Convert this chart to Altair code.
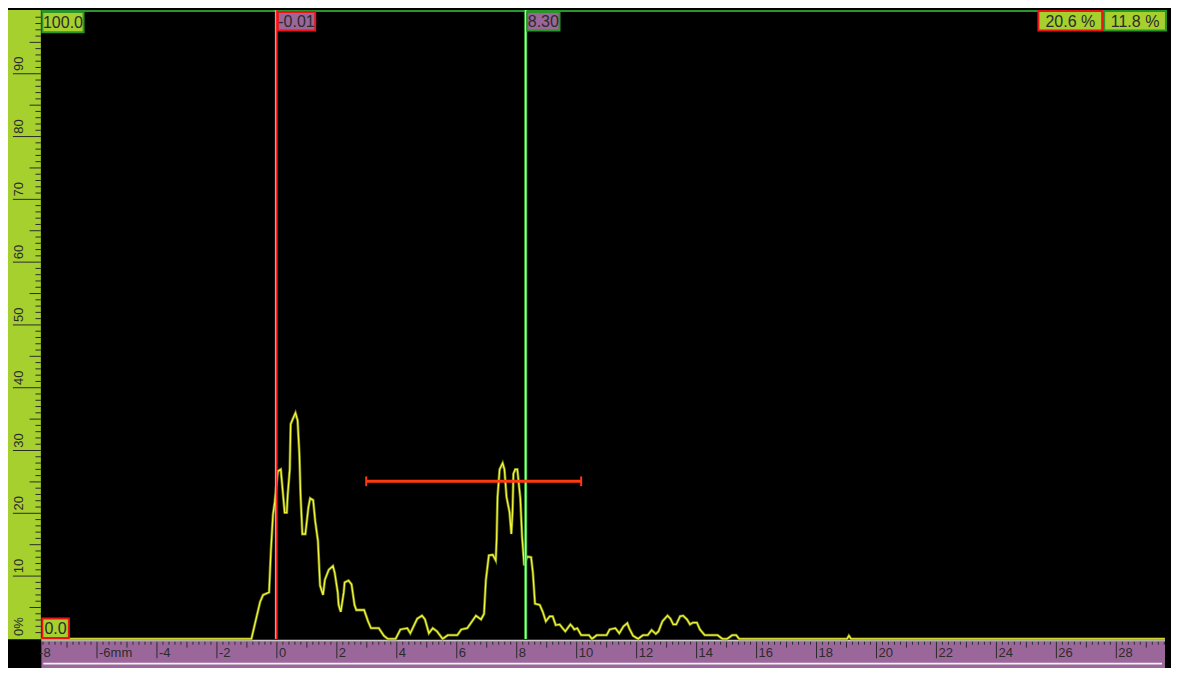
import altair as alt
import pandas as pd

# ---------------- data ----------------
trace_mm = [-7.86, -0.85, -0.56, -0.46, -0.26, -0.20, -0.13, -0.07, 0.03, 0.13, 0.20, 0.26, 0.33, 0.36,
            0.43, 0.46, 0.52, 0.62, 0.69, 0.75, 0.79, 0.85, 0.95, 1.05, 1.11, 1.21, 1.28, 1.37, 1.44,
            1.54, 1.60, 1.73, 1.87, 1.93, 2.03, 2.06, 2.13, 2.23, 2.26, 2.39, 2.49, 2.59, 2.65, 2.91,
            3.04, 3.14, 3.40, 3.57, 3.70, 3.96, 4.12, 4.35, 4.45, 4.68, 4.84, 4.94, 5.07, 5.20, 5.34,
            5.53, 5.70, 6.02, 6.15, 6.35, 6.51, 6.64, 6.81, 6.91, 6.97, 7.07, 7.20, 7.30, 7.33, 7.36,
            7.43, 7.53, 7.59, 7.66, 7.76, 7.82, 7.86, 7.89, 7.95, 8.02, 8.12, 8.18, 8.25, 8.35, 8.48,
            8.54, 8.61, 8.77, 8.87, 8.97, 9.10, 9.20, 9.30, 9.43, 9.53, 9.62, 9.79, 9.85, 9.92, 10.02,
            10.15, 10.41, 10.51, 10.67, 11.00, 11.10, 11.29, 11.42, 11.56, 11.69, 11.75, 11.88, 12.05,
            12.21, 12.37, 12.50, 12.64, 12.73, 12.86, 13.03, 13.13, 13.22, 13.32, 13.45, 13.55, 13.68,
            13.78, 13.88, 14.01, 14.11, 14.27, 14.70, 14.86, 15.02, 15.19, 15.32, 15.42, 19.02, 19.08,
            19.15, 29.62]
trace_amp = [0, 0, 5.9, 7.0, 7.4, 13.9, 19.8, 21.8, 26.7, 27.0, 23.3, 20.1, 20.1, 22.9,
             27.0, 34.2, 34.9, 36.0, 34.8, 29.5, 22.9, 16.7, 16.7, 20.9, 22.4, 22.1, 18.7, 15.6, 8.5,
             7.0, 9.4, 11.0, 11.6, 10.5, 7.4, 5.4, 4.3, 7.4, 9.0, 9.3, 8.7, 5.4, 4.6, 4.6,
             2.8, 1.7, 1.7, 0.5, 0, 0, 1.5, 1.7, 0.9, 3.2, 3.7, 3.1, 0.9, 1.7, 1.2,
             0, 0.6, 0.6, 1.5, 1.7, 2.8, 3.7, 3.1, 4.0, 9.3, 13.3, 13.4, 12.5, 15.9, 22.6,
             27.0, 28.0, 27.0, 22.6, 20.2, 16.7, 20.2, 26.3, 27.0, 27.0, 22.4, 16.2, 11.7, 13.1, 13.0,
             10.5, 5.6, 5.4, 4.3, 2.8, 3.6, 3.6, 2.2, 2.3, 1.7, 1.2, 2.3, 2.0, 1.5, 1.7,
             0.6, 0.6, 0, 0.6, 0.6, 1.5, 1.7, 0.9, 2.0, 2.5, 1.7, 0.5, 0,
             0.6, 0.6, 1.4, 0.8, 1.2, 2.8, 3.7, 3.2, 2.3, 2.3, 3.6, 3.7, 3.1,
             2.3, 2.6, 2.6, 1.5, 0.6, 0.6, 0, 0, 0.6, 0.6, 0, 0, 0.5,
             0, 0]

red_cursor_mm = -0.01
green_cursor_mm = 8.30
gate_start_mm = 2.98
gate_end_mm = 10.15
gate_level = 25.1

readout_labels = ["100.0", "0.0", "-0.01", "8.30", "20.6 %", "11.8 %"]

x_tick_values = list(range(-8, 30, 2))
x_tick_labels = ["-8", "-6mm", "-4", "-2", "0", "2", "4", "6", "8", "10", "12", "14", "16",
                 "18", "20", "22", "24", "26", "28"]
y_tick_values = [0, 10, 20, 30, 40, 50, 60, 70, 80, 90]
y_tick_labels = ["0%", "10", "20", "30", "40", "50", "60", "70", "80", "90"]

# ---------------- layout helpers ----------------
PX_PER_MM = 30.55
PX_PER_PCT = 6.47
X0_PX = 274.0
Y0_PX = 648.0


def px2mm(px):
    return (px - X0_PX) / PX_PER_MM


def py2amp(py):
    return (Y0_PX - py) / PX_PER_PCT


XMIN, XMAX = px2mm(0), px2mm(1179)
YMIN, YMAX = py2amp(678), py2amp(0)
XS = alt.Scale(domain=[XMIN, XMAX], nice=False, zero=False)
YS = alt.Scale(domain=[YMIN, YMAX], nice=False, zero=False)

FONT = "Liberation Sans"
GREEN_FILL = "#a6d02e"
PURPLE = "#9b679b"
TEXT = "#2b2b2b"
RED = "#e8161a"
DKGREEN = "#2a962a"


def X(f):
    return alt.X(f"{f}:Q", scale=XS, axis=None)


def Y(f):
    return alt.Y(f"{f}:Q", scale=YS, axis=None)


def rect_layer(df, color, stroke=None, sw=0):
    kw = dict(color=color)
    if stroke:
        kw.update(stroke=stroke, strokeWidth=sw)
    return alt.Chart(df).mark_rect(**kw).encode(x=X("x0"), x2="x1", y=Y("y0"), y2="y1")


# rulers background
left_ruler = rect_layer(pd.DataFrame({"x0": [XMIN], "x1": [px2mm(33.5)], "y0": [py2amp(648.5)], "y1": [YMAX]}), GREEN_FILL)
bottom_ruler = rect_layer(pd.DataFrame({"x0": [px2mm(34)], "x1": [XMAX], "y0": [YMIN], "y1": [py2amp(650)]}), PURPLE)

ruler_lines = alt.Chart(pd.DataFrame({
    "x0": [px2mm(34), px2mm(36)], "x1": [XMAX, px2mm(1176)],
    "y": [py2amp(649.6), py2amp(673.5)], "c": ["#c9c9c9", "#f2f2f2"]
})).mark_rule(strokeWidth=1.6).encode(x=X("x0"), x2="x1", y=Y("y"), color=alt.Color("c:N", scale=None))

# y ruler ticks
yt = []
for v in range(1, 100):
    if v % 10 == 0:
        x0 = px2mm(5)
    elif v % 5 == 0:
        x0 = px2mm(22)
    else:
        x0 = px2mm(28)
    yt.append({"y": v, "x0": x0, "x1": px2mm(33.5)})
y_ticks = alt.Chart(pd.DataFrame(yt)).mark_rule(color=TEXT, strokeWidth=1).encode(x=X("x0"), x2="x1", y=Y("y"))

y_lab_df = pd.DataFrame({"v": y_tick_values, "lab": y_tick_labels})
y_lab_df["yy"] = y_lab_df["v"] + 0.45
y_lab_df["xx"] = px2mm(11)
y_labels = alt.Chart(y_lab_df).mark_text(angle=270, align="left", baseline="middle", font=FONT,
                                         fontSize=13, color=TEXT).encode(x=X("xx"), y=Y("yy"), text="lab:N")

# x ruler ticks
xt = []
for i in range(-39, 149):
    v = round(i * 0.2, 2)
    if i % 5 == 0 and (i // 5) % 2 == 0:
        y1 = py2amp(668)
    elif i % 5 == 0:
        y1 = py2amp(657)
    else:
        y1 = py2amp(654)
    xt.append({"x": v, "y0": py2amp(651), "y1": y1})
x_ticks = alt.Chart(pd.DataFrame(xt)).mark_rule(color=TEXT, strokeWidth=1).encode(x=X("x"), y=Y("y0"), y2="y1")

x_lab_df = pd.DataFrame({"v": x_tick_values, "lab": x_tick_labels})
x_lab_df["yy"] = py2amp(667)
x_labels = alt.Chart(x_lab_df).mark_text(align="left", baseline="alphabetic", dx=2, font=FONT,
                                         fontSize=13, color=TEXT).encode(x=X("v"), y=Y("yy"), text="lab:N")

# top border line
top_line = alt.Chart(pd.DataFrame({"x0": [px2mm(34)], "x1": [XMAX], "y": [py2amp(1)]})).mark_rule(
    color=DKGREEN, strokeWidth=2).encode(x=X("x0"), x2="x1", y=Y("y"))

# trace
trace_df = pd.DataFrame({"mm": trace_mm, "amp": trace_amp})
trace_outline = alt.Chart(trace_df).mark_line(color="#6c7a10", strokeWidth=2.8, strokeJoin="miter").encode(
    x=X("mm"), y=Y("amp"))
trace_core = alt.Chart(trace_df).mark_line(color="#f4f43c", strokeWidth=1.3).encode(x=X("mm"), y=Y("amp"))

# cursors
cur_df = pd.DataFrame({
    "x": [red_cursor_mm - 1.2 / PX_PER_MM, red_cursor_mm, green_cursor_mm, green_cursor_mm],
    "y0": [0, 0, 0, 0], "y1": [YMAX] * 4,
    "c": ["#f0f0f0", "#ff2a2a", "#3fbf3f", "#d8ffd0"],
    "w": [1.0, 2.0, 3.0, 1.0],
    "o": [0, 1, 2, 3],
})
cursors = alt.Chart(cur_df).mark_rule(strokeCap="butt").encode(
    x=X("x"), y=Y("y0"), y2="y1", color=alt.Color("c:N", scale=None),
    strokeWidth=alt.StrokeWidth("w:Q", scale=None), order="o:Q")

# gate
gate_df = pd.DataFrame({"x0": [gate_start_mm], "x1": [gate_end_mm], "y": [gate_level]})
gate = alt.Chart(gate_df).mark_rule(color="#ff3a12", strokeWidth=3).encode(x=X("x0"), x2="x1", y=Y("y"))
cap_df = pd.DataFrame({"x": [gate_start_mm, gate_end_mm],
                       "y0": [gate_level - 5 / PX_PER_PCT] * 2, "y1": [gate_level + 5 / PX_PER_PCT] * 2})
gate_caps = alt.Chart(cap_df).mark_rule(color="#ff3a12", strokeWidth=2).encode(x=X("x"), y=Y("y0"), y2="y1")

# readout boxes
box_px = [  # x0, x1, y0, y1 (reference pixels), fill, stroke
    (35, 77, 2, 23, GREEN_FILL, DKGREEN),
    (35, 62, 627, 647, GREEN_FILL, RED),
    (275, 313, 2, 21, PURPLE, RED),
    (529, 562, 2, 21, PURPLE, DKGREEN),
    (1050, 1115, 1, 21, GREEN_FILL, RED),
    (1117, 1180, 1, 21, GREEN_FILL, DKGREEN),
]
boxes = []
for (a, b, c, d, f, s), lab in zip(box_px, readout_labels):
    boxes.append({"x0": px2mm(a), "x1": px2mm(b), "y0": py2amp(d), "y1": py2amp(c),
                  "fill": f, "stroke": s, "lab": lab,
                  "xc": px2mm((a + b) / 2), "yc": py2amp((c + d) / 2 + 1)})
box_df = pd.DataFrame(boxes)
box_rects = alt.Chart(box_df).mark_rect(strokeWidth=2).encode(
    x=X("x0"), x2="x1", y=Y("y0"), y2="y1",
    color=alt.Color("fill:N", scale=None), stroke=alt.Stroke("stroke:N", scale=None))
box_text = alt.Chart(box_df).mark_text(font=FONT, fontSize=16, color=TEXT, baseline="middle",
                                       align="center").encode(x=X("xc"), y=Y("yc"), text="lab:N")

chart = alt.layer(
    left_ruler, bottom_ruler, ruler_lines, y_ticks, y_labels, x_ticks, x_labels,
    top_line, trace_outline, trace_core, cursors, gate, gate_caps, box_rects, box_text
).properties(
    width=1163, height=660, background="black", padding=0,
    autosize=alt.AutoSizeParams(type="fit", contains="padding"),
).configure_view(strokeWidth=0)

chart.save("out.html", embed_options={"renderer": "svg", "actions": False})
